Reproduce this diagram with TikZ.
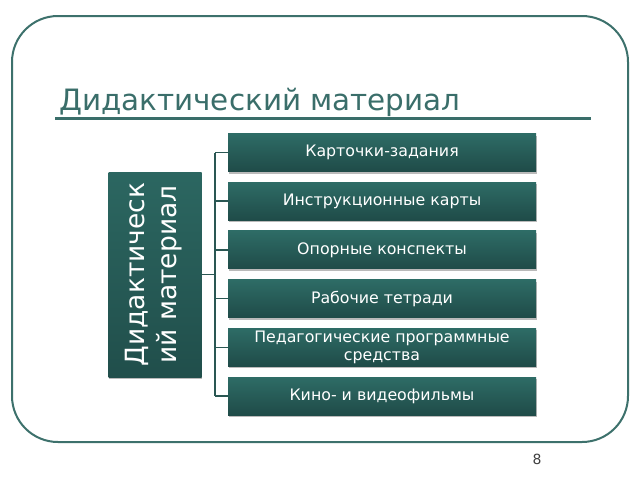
\documentclass[tikz,border=0pt]{standalone}
\usepackage{fontspec}
\setmainfont{DejaVu Sans}
\usetikzlibrary{shadows}
\definecolor{frame}{HTML}{3D716C}
\definecolor{titlec}{HTML}{3A6E6A}
\definecolor{boxtop}{HTML}{2E6C66}
\definecolor{boxbot}{HTML}{1F4B48}
\definecolor{linec}{HTML}{2A5753}
\tikzset{
  itembox/.style={minimum width=308pt, minimum height=38pt, inner sep=0pt,
    top color=boxtop, bottom color=boxbot, text=white, align=center,
    font=\fontsize{15.8}{17.5}\selectfont,
    drop shadow={shadow xshift=0.8pt, shadow yshift=-2pt, opacity=0.45, fill=black!60}},
  mainbox/.style={minimum width=93pt, minimum height=205pt, inner sep=0pt,
    top color=boxtop!95!black, bottom color=boxbot!90!boxtop, text=white,
    drop shadow={shadow xshift=0.8pt, shadow yshift=-2pt, opacity=0.45, fill=black!60}},
  conn/.style={draw=linec, line width=1.6pt}
}
\begin{document}
\begin{tikzpicture}[x=1pt,y=-1pt]
\useasboundingbox (0,0) rectangle (640,480);
\fill[white] (0,0) rectangle (640,480);
\draw[frame, line width=2pt, rounded corners=46pt] (12,16) rectangle (628,442);
\node[anchor=base west, text=titlec, font=\fontsize{29.4}{31}\selectfont, inner sep=0pt] (title) at (59,110) {Дидактический материал};
\draw[titlec, line width=2.6pt] (55,118.5) -- (591,118.5);
\node[mainbox] (main) at (155,274.5) {};
\node[rotate=90, text=white, align=center, font=\fontsize{26.5}{32}\selectfont] (maintext) at ([xshift=-1pt]main.center) {Дидактическ\\ий материал};
\foreach \i/\t in {1/{Карточки-задания},2/{Инструкционные карты},3/{Опорные конспекты},4/{Рабочие тетради},5/{Педагогические программные\\средства},6/{Кино- и видеофильмы}}{
  \node[itembox] (b\i) at (382,{152.5+48.7*(\i-1)}) {\t};
}
\coordinate (trunk) at (215,274.5);
\draw[conn] (main.east) -- (trunk);
\foreach \i in {1,...,6}{
  \draw[conn] (b\i.west) -- (trunk |- b\i.west);
}
\draw[conn] (trunk |- b1.west) -- (trunk |- b6.west);
\node[text=black!75, font=\fontsize{14}{15}\selectfont] (pnum) at (537,459) {8};
\end{tikzpicture}
\end{document}
